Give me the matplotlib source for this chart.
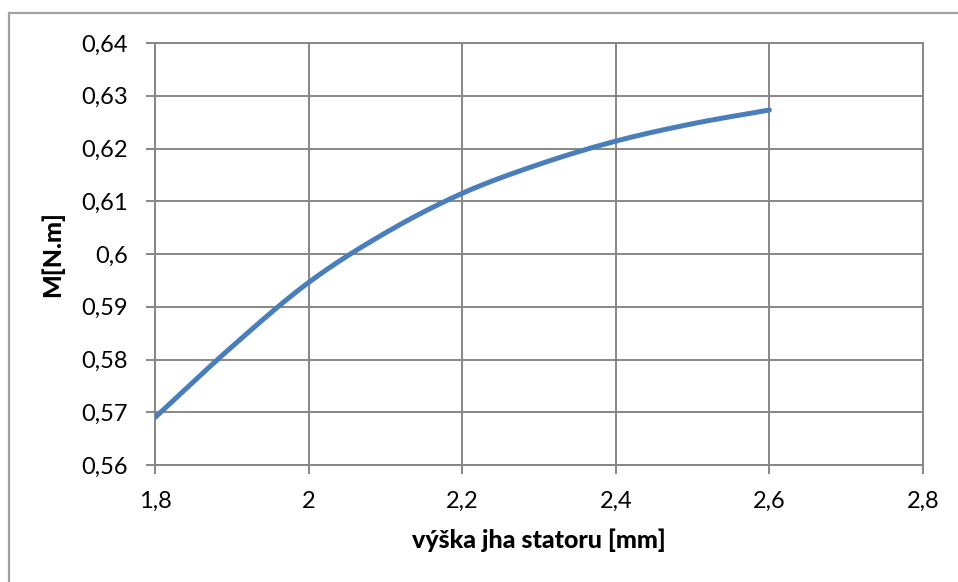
import numpy as np
import matplotlib
matplotlib.use("Agg")
import matplotlib.pyplot as plt
from matplotlib.lines import Line2D
from matplotlib.ticker import FuncFormatter

plt.rcParams['font.family'] = ['Lato', 'DejaVu Sans']

# Stator yoke height [mm] and resulting torque [N.m]
yoke_height = [1.8, 1.9, 2.0, 2.1, 2.2, 2.3, 2.4, 2.5, 2.6]
torque = [0.569, 0.5824, 0.5946, 0.6040, 0.6115, 0.6170, 0.6214, 0.6247, 0.6273]

x_ticks = [1.8, 2.0, 2.2, 2.4, 2.6, 2.8]
y_ticks = [0.56, 0.57, 0.58, 0.59, 0.60, 0.61, 0.62, 0.63, 0.64]

x_label = "výška jha statoru [mm]"
y_label = "M[N.m]"


def smooth_curve(x, y, steps=30):
    """Catmull-Rom spline through the points (smoothed line)."""
    x = np.asarray(x, float)
    y = np.asarray(y, float)
    px = np.concatenate([[2 * x[0] - x[1]], x, [2 * x[-1] - x[-2]]])
    py = np.concatenate([[2 * y[0] - y[1]], y, [2 * y[-1] - y[-2]]])
    xs, ys = [], []
    t = np.linspace(0, 1, steps, endpoint=False)
    for i in range(1, len(px) - 2):
        p0, p1, p2, p3 = (np.array([px[j], py[j]]) for j in range(i - 1, i + 3))
        t2, t3 = t * t, t * t * t
        pts = 0.5 * ((2 * p1)[:, None] + (-p0 + p2)[:, None] * t
                     + (2 * p0 - 5 * p1 + 4 * p2 - p3)[:, None] * t2
                     + (-p0 + 3 * p1 - 3 * p2 + p3)[:, None] * t3)
        xs.extend(pts[0])
        ys.extend(pts[1])
    xs.append(x[-1])
    ys.append(y[-1])
    return np.array(xs), np.array(ys)


W, H = 958, 582
fig = plt.figure(figsize=(W / 100, H / 100), dpi=100)
fig.patch.set_facecolor('white')

# outer chart frame
frame_c = '#a0a0a0'
fig.add_artist(Line2D([9 / W, 1.0], [1 - 13 / H, 1 - 13 / H], color=frame_c, lw=1.6,
                      transform=fig.transFigure))
fig.add_artist(Line2D([9 / W, 9 / W], [0.0, 1 - 13 / H], color=frame_c, lw=1.6,
                      transform=fig.transFigure))

left, right, top, bottom = 155, 923, 43, 465
ax = fig.add_axes([left / W, 1 - bottom / H, (right - left) / W, (bottom - top) / H])

grid_c = '#878787'
sx, sy = smooth_curve(yoke_height, torque)
ax.plot(sx, sy, color='#4a7ebb', lw=3.6, solid_capstyle='round', zorder=3)

ax.set_xlim(x_ticks[0], x_ticks[-1])
ax.set_ylim(y_ticks[0], y_ticks[-1])
ax.set_xticks(x_ticks)
ax.set_yticks(y_ticks)


def comma_fmt(v, pos):
    s = f"{v:.2f}".rstrip('0').rstrip('.')
    return s.replace('.', ',')


ax.xaxis.set_major_formatter(FuncFormatter(comma_fmt))
ax.yaxis.set_major_formatter(FuncFormatter(comma_fmt))

ax.grid(True, color=grid_c, lw=1.4)
ax.set_axisbelow(True)
for sp in ax.spines.values():
    sp.set_color(grid_c)
    sp.set_linewidth(1.4)

ax.tick_params(axis='both', colors=grid_c, labelcolor='black', labelsize=17,
               length=6.5, width=1.4)
ax.tick_params(axis='x', pad=12)
ax.tick_params(axis='y', pad=13)

ax.set_xlabel(x_label, fontsize=18, fontweight='black', labelpad=12)
ax.set_ylabel(y_label, fontsize=18, fontweight='black', labelpad=12)

fig.savefig('out.png', dpi=100)
